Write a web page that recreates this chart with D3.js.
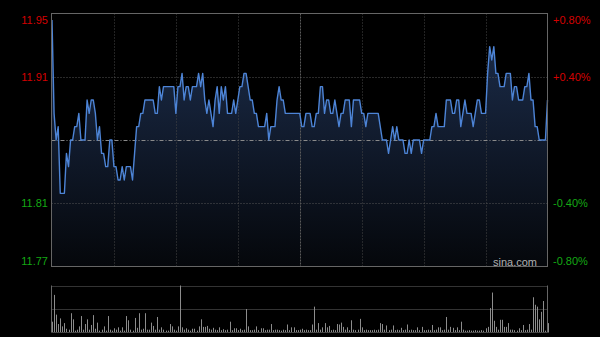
<!DOCTYPE html>
<html>
<head>
<meta charset="utf-8">
<script src="https://cdn.jsdelivr.net/npm/d3@7"></script>
<style>
  html, body { margin: 0; padding: 0; background: #000; }
  svg { display: block; }
  text { font-family: "Liberation Sans", Arial, sans-serif; font-size: 11px; }
</style>
</head>
<body>
<svg id="chart" width="600" height="337"></svg>
<script>
// previous close and price ticks
var prevClose = 11.86;
var priceTicks = [11.95, 11.91, 11.81, 11.77];
var pctTicks = [0.8, 0.4, -0.4, -0.8];
var pctLabels = ['+0.80%', '+0.40%', '-0.40%', '-0.80%'];

// one price per minute, 9:30 .. 15:00
var prices = [
  11.95, 11.88, 11.86, 11.87, 11.82, 11.82, 11.82, 11.85, 11.84, 11.86,
  11.86, 11.87, 11.87, 11.88, 11.86, 11.86, 11.86, 11.89, 11.88, 11.89,
  11.89, 11.88, 11.86, 11.87, 11.85, 11.85, 11.84, 11.84, 11.86, 11.86,
  11.84, 11.84, 11.83, 11.83, 11.84, 11.83, 11.84, 11.84, 11.84, 11.83,
  11.85, 11.87, 11.87, 11.88, 11.88, 11.89, 11.89, 11.89, 11.89, 11.89,
  11.88, 11.88, 11.90, 11.89, 11.90, 11.90, 11.90, 11.90, 11.90, 11.90,
  11.88, 11.90, 11.90, 11.91, 11.89, 11.90, 11.90, 11.89, 11.90, 11.90,
  11.90, 11.91, 11.90, 11.91, 11.89, 11.88, 11.89, 11.88, 11.87, 11.89,
  11.90, 11.88, 11.90, 11.89, 11.90, 11.88, 11.88, 11.88, 11.89, 11.88,
  11.89, 11.90, 11.90, 11.91, 11.91, 11.90, 11.89, 11.89, 11.88, 11.88,
  11.87, 11.87, 11.87, 11.87, 11.88, 11.86, 11.87, 11.87, 11.87, 11.89,
  11.90, 11.89, 11.89, 11.88, 11.88, 11.88, 11.88, 11.88, 11.88, 11.88,
  11.88, 11.87, 11.87, 11.88, 11.88, 11.88, 11.87, 11.87, 11.88, 11.88,
  11.90, 11.90, 11.88, 11.89, 11.89, 11.88, 11.88, 11.89, 11.88, 11.87,
  11.88, 11.88, 11.89, 11.89, 11.89, 11.87, 11.89, 11.89, 11.89, 11.89,
  11.88, 11.88, 11.87, 11.88, 11.88, 11.88, 11.88, 11.88, 11.88, 11.87,
  11.86, 11.86, 11.86, 11.85, 11.86, 11.87, 11.86, 11.87, 11.86, 11.86,
  11.86, 11.85, 11.85, 11.86, 11.85, 11.86, 11.86, 11.86, 11.86, 11.85,
  11.86, 11.86, 11.86, 11.86, 11.87, 11.87, 11.88, 11.87, 11.87, 11.87,
  11.87, 11.89, 11.89, 11.89, 11.88, 11.88, 11.89, 11.89, 11.87, 11.88,
  11.89, 11.88, 11.88, 11.88, 11.87, 11.88, 11.89, 11.89, 11.88, 11.88,
  11.88, 11.91, 11.93, 11.92, 11.93, 11.91, 11.91, 11.90, 11.90, 11.90,
  11.91, 11.91, 11.91, 11.89, 11.90, 11.90, 11.89, 11.89, 11.89, 11.90,
  11.90, 11.91, 11.89, 11.89, 11.87, 11.87, 11.86, 11.86, 11.86, 11.86,
  11.89
];

// volume per minute (relative, 100 = busiest minute)
var volumes = [
  23, 80, 38, 18, 30, 13, 20, 8, 6, 41,
  28, 4, 6, 13, 35, 6, 18, 28, 6, 16,
  37, 8, 21, 4, 6, 13, 4, 35, 6, 4,
  9, 6, 11, 4, 11, 4, 35, 26, 6, 4,
  31, 10, 41, 6, 8, 41, 6, 6, 21, 14,
  6, 33, 6, 11, 6, 4, 4, 18, 13, 6,
  4, 13, 100, 11, 6, 9, 6, 4, 8, 8,
  4, 13, 28, 12, 12, 14, 8, 6, 10, 6,
  5, 11, 5, 7, 5, 6, 23, 5, 9, 9,
  5, 8, 5, 6, 50, 13, 5, 5, 6, 13,
  5, 9, 9, 5, 6, 6, 18, 5, 6, 6,
  5, 4, 6, 5, 17, 5, 11, 11, 5, 5,
  6, 8, 5, 6, 5, 5, 17, 55, 6, 20,
  6, 11, 20, 11, 14, 5, 6, 5, 18, 17,
  21, 12, 6, 11, 5, 26, 6, 5, 6, 29,
  11, 5, 6, 5, 5, 5, 6, 5, 6, 20,
  18, 6, 15, 5, 6, 15, 5, 6, 5, 10,
  5, 6, 17, 5, 6, 5, 5, 11, 5, 12,
  5, 5, 6, 5, 16, 5, 6, 11, 11, 5,
  6, 33, 6, 12, 10, 5, 11, 5, 23, 6,
  4, 4, 5, 4, 4, 5, 4, 4, 5, 4,
  9, 12, 52, 85, 25, 12, 6, 27, 27, 12,
  12, 20, 6, 6, 5, 4, 9, 5, 16, 5,
  6, 18, 6, 75, 59, 55, 28, 44, 67, 4,
  20
];

var svg = d3.select('#chart');
var pLeft = 51.5, pRight = 547.5, pTop = 13.5, pBottom = 266.5;
var vTop = 285.5, vBottom = 332.5;

var x = d3.scaleLinear().domain([0, 240]).range([pLeft + 0.5, pRight]);
var y = d3.scaleLinear()
  .domain([prevClose * 0.992, prevClose * 1.008])
  .range([pBottom, pTop]);
var yPct = d3.scaleLinear().domain([-0.8, 0.8]).range([pBottom, pTop]);
var yVol = d3.scaleLinear().domain([0, 100]).range([vBottom, vTop]);

// gradient under the line
var defs = svg.append('defs');
var grad = defs.append('linearGradient')
  .attr('id', 'fillGrad')
  .attr('gradientUnits', 'userSpaceOnUse')
  .attr('x1', 0).attr('y1', pTop).attr('x2', 0).attr('y2', pBottom);
grad.append('stop').attr('offset', '0%').attr('stop-color', '#1d2f4f');
grad.append('stop').attr('offset', '100%').attr('stop-color', '#05070b');

var area = d3.area()
  .x(function(d, i) { return x(i); })
  .y0(pBottom)
  .y1(function(d) { return y(d); });

svg.append('path')
  .datum(prices)
  .attr('fill', 'url(#fillGrad)')
  .attr('d', area);

// grid
var vGrid = d3.range(30, 240, 30);
svg.append('g').selectAll('line')
  .data(vGrid)
  .enter().append('line')
  .attr('x1', function(d) { return Math.round(x(d)) + 0.5; })
  .attr('x2', function(d) { return Math.round(x(d)) + 0.5; })
  .attr('y1', pTop).attr('y2', pBottom)
  .attr('stroke', function(d) { return d === 120 ? '#5a5a5a' : '#474747'; })
  .attr('stroke-dasharray', function(d) { return d === 120 ? '2,1' : '1,2'; });

svg.append('g').selectAll('line')
  .data([0.4, -0.4])
  .enter().append('line')
  .attr('x1', pLeft).attr('x2', pRight)
  .attr('y1', function(d) { return Math.round(yPct(d)) + 0.5; })
  .attr('y2', function(d) { return Math.round(yPct(d)) + 0.5; })
  .attr('stroke', '#555')
  .attr('stroke-dasharray', '1,2');

svg.append('line')
  .attr('x1', pLeft).attr('x2', pRight)
  .attr('y1', Math.round(yPct(0)) + 0.5).attr('y2', Math.round(yPct(0)) + 0.5)
  .attr('stroke', '#8a8a8a')
  .attr('stroke-dasharray', '4,2,1,2');

// price line
var line = d3.line()
  .x(function(d, i) { return x(i); })
  .y(function(d) { return y(d); });

svg.append('path')
  .datum(prices)
  .attr('fill', 'none')
  .attr('stroke', '#4d84d6')
  .attr('stroke-width', 1.4)
  .attr('stroke-linejoin', 'round')
  .attr('d', line);

// frame
svg.append('rect')
  .attr('x', pLeft).attr('y', pTop)
  .attr('width', pRight - pLeft).attr('height', pBottom - pTop)
  .attr('fill', 'none')
  .attr('stroke', '#666');

// labels
svg.append('g').selectAll('text')
  .data(priceTicks)
  .enter().append('text')
  .attr('x', 48)
  .attr('y', function(d, i) {
    var p = yPct(pctTicks[i]);
    if (i === 0) p += 6;
    if (i === 3) p -= 6;
    return p + 4;
  })
  .attr('text-anchor', 'end')
  .attr('fill', function(d, i) { return i < 2 ? '#d40000' : '#14a814'; })
  .text(function(d) { return d.toFixed(2); });

svg.append('g').selectAll('text')
  .data(pctTicks)
  .enter().append('text')
  .attr('x', 553)
  .attr('y', function(d, i) {
    var p = yPct(d);
    if (i === 0) p += 6;
    if (i === 3) p -= 6;
    return p + 4;
  })
  .attr('fill', function(d) { return d > 0 ? '#d40000' : '#14a814'; })
  .text(function(d, i) { return pctLabels[i]; });

svg.append('text')
  .attr('x', 537).attr('y', 266)
  .attr('text-anchor', 'end')
  .attr('fill', '#b0b0b0')
  .text('sina.com');

// volume panel
svg.append('g').selectAll('line')
  .data([vTop, (vTop + vBottom) / 2 - 0.5])
  .enter().append('line')
  .attr('x1', pLeft).attr('x2', pRight)
  .attr('y1', function(d) { return Math.round(d) + 0.5; })
  .attr('y2', function(d) { return Math.round(d) + 0.5; })
  .attr('stroke', '#666')
  .attr('stroke-dasharray', '1,1');

svg.append('g').selectAll('line')
  .data(volumes)
  .enter().append('line')
  .attr('x1', function(d, i) { return Math.round(x(i)) + 0.5; })
  .attr('x2', function(d, i) { return Math.round(x(i)) + 0.5; })
  .attr('y1', vBottom)
  .attr('y2', function(d) { return yVol(d); })
  .attr('stroke', '#8c8c8c')
  .attr('stroke-width', 1);

svg.append('line')
  .attr('x1', pLeft).attr('x2', pLeft).attr('y1', vTop).attr('y2', vBottom)
  .attr('stroke', '#666');
svg.append('line')
  .attr('x1', pRight).attr('x2', pRight).attr('y1', vTop).attr('y2', vBottom)
  .attr('stroke', '#666');
svg.append('line')
  .attr('x1', pLeft).attr('x2', pRight).attr('y1', vBottom).attr('y2', vBottom)
  .attr('stroke', '#444');
</script>
</body>
</html>
